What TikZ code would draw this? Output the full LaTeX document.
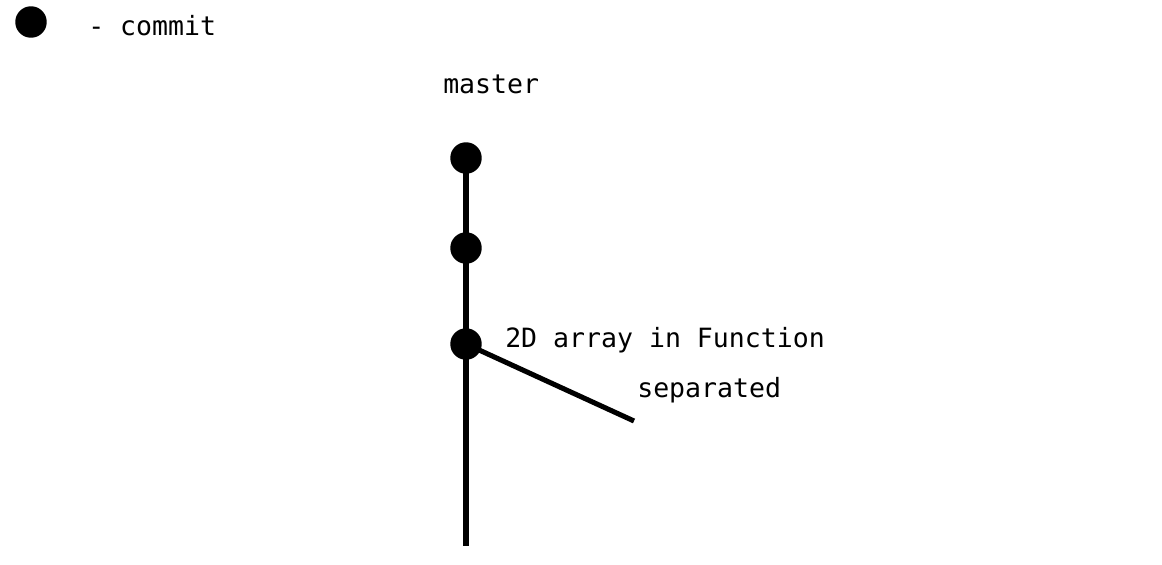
\documentclass[tikz,border=0pt]{standalone}
\usepackage{fontspec}
\setmonofont{DejaVu Sans Mono}

\begin{document}
\begin{tikzpicture}[x=0.75pt,y=-0.75pt,
    commit/.style={circle,fill=black,inner sep=0,minimum size=23.6pt},
    lbl/.style={inner sep=0,anchor=base west,font=\ttfamily\fontsize{19.9}{24}\selectfont}]
    \useasboundingbox (0,0) rectangle (1162,564);
    \node[commit] (key) at (31,22) {};
    \node[lbl] (keytext) at (88,36) {- commit};
    \node[lbl] (master) at (443,93) {master};
    \coordinate (c1) at (466,158);
    \coordinate (c2) at (466,248);
    \coordinate (c3) at (466,344);
    \coordinate (tip) at (466,546);
    \coordinate (br) at (634,421);
    \draw[line width=3.8pt] (c1) -- (tip);
    \draw[line width=3.8pt] (c3) -- (br);
    \node[commit] (m1) at (c1) {};
    \node[commit] (m2) at (c2) {};
    \node[commit] (m3) at (c3) {};
    \node[lbl] (msg) at (505,347) {2D array in Function};
    \node[lbl] (brname) at (637,397) {separated};
\end{tikzpicture}
\end{document}
